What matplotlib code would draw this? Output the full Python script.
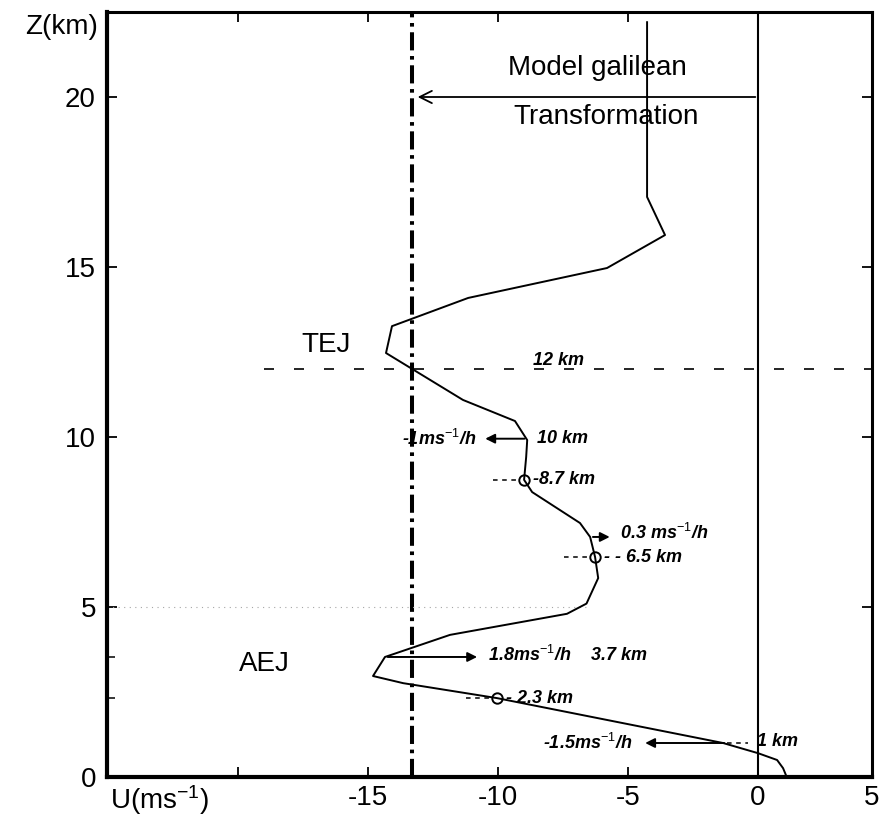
import matplotlib
matplotlib.use("Agg")
import matplotlib.pyplot as plt

# vertical profile of U (m/s) against height (km)
u_prof = [-4.27, -4.27, -3.58, -5.81, -11.15, -14.08, -14.31, -11.35, -9.35, -8.88,
          -8.92, -9.0, -8.69, -6.85, -6.46, -6.27, -6.15, -6.6, -7.35, -11.85,
          -14.35, -14.81, -13.65, -10.04, -1.35, 0.0, 0.73, 0.96, 1.1]
z_prof = [22.2, 17.06, 15.94, 14.97, 14.09, 13.26, 12.47, 11.09, 10.47, 9.91,
          9.41, 8.74, 8.38, 7.47, 7.06, 6.47, 5.85, 5.1, 4.8, 4.18,
          3.53, 2.97, 2.76, 2.32, 1.0, 0.7, 0.5, 0.26, 0.0]

u_galilean = -13.3      # model galilean transformation speed
z_tej_level = 12.0
z_aej_ref = 5.0

# marked levels (circles)
circ_u = [-9.0, -6.27, -10.04]
circ_z = [8.74, 6.47, 2.32]
circ_labels = ["-8.7 km", "- - 6.5 km", "- 2.3 km"]

xticks = [-20, -15, -10, -5, 0]
xticklabels = ["", "-15", "-10", "-5", "0"]
yticks = [0, 5, 10, 15, 20]

plt.rcParams["font.family"] = ["Liberation Sans", "DejaVu Sans"]
plt.rcParams["mathtext.fontset"] = "custom"
plt.rcParams["mathtext.rm"] = "Liberation Sans"
plt.rcParams["mathtext.it"] = "Liberation Sans:italic"

fig = plt.figure(figsize=(8.81, 8.25), dpi=100)
ax = fig.add_axes([107 / 881, 1 - 777 / 825, 765 / 881, 765 / 825])
ax.set_xlim(-25.04, 4.38)
ax.set_ylim(0, 22.5)

# reference lines
ax.axvline(0, color="black", lw=1.5)
ax.axvline(u_galilean, color="black", lw=2.9, dashes=(4.5, 1.4, 0.9, 1.4))
ax.plot([-19, 4.38], [z_tej_level, z_tej_level], color="black", lw=1.2, dashes=(6, 12))
ax.plot([-25.04, -6.6], [z_aej_ref, z_aej_ref], color="0.65", lw=0.8, ls=(0, (1, 4)))

# profile
ax.plot(u_prof, z_prof, color="black", lw=1.4)
ax.plot(circ_u, circ_z, "o", ms=7.5, mfc="none", mec="black", mew=1.4)

hand = dict(fontsize=13, fontstyle="italic", fontweight="bold", va="center")
ax.text(-8.65, 12.25, "12 km", **hand)
ax.text(-8.5, 9.95, "10 km", **hand)
ax.text(-10.85, 9.95, "-1ms$^{-1}$/h", ha="right", **hand)
for cu, cz, lab in zip(circ_u, circ_z, circ_labels):
    ax.plot([cu - 1.2, cu - 0.3], [cz, cz], color="black", lw=1.1, dashes=(3, 3))
    ax.text(cu + 0.35, cz, lab, **hand)
ax.text(-5.3, 7.18, "0.3 ms$^{-1}$/h", **hand)
ax.text(-10.4, 3.6, "1.8ms$^{-1}$/h    3.7 km", **hand)
ax.text(-4.85, 1.0, "-1.5ms$^{-1}$/h", ha="right", **hand)
ax.text(-0.05, 1.05, "1 km", **hand)
ax.plot([-1.2, -0.4], [1.0, 1.0], color="black", lw=1.1, dashes=(3, 3))

arrow = dict(arrowstyle="-|>", color="black", lw=1.4, mutation_scale=14)
ax.annotate("", xy=(-10.6, 9.95), xytext=(-8.88, 9.95), arrowprops=arrow)
ax.annotate("", xy=(-5.6, 7.06), xytext=(-6.46, 7.06), arrowprops=arrow)
ax.annotate("", xy=(-10.7, 3.53), xytext=(-14.35, 3.53), arrowprops=arrow)
ax.annotate("", xy=(-4.45, 1.0), xytext=(-1.2, 1.0), arrowprops=arrow)

# galilean transformation arrow
ax.annotate("", xy=(u_galilean + 0.1, 20.0), xytext=(0, 20.0),
            arrowprops=dict(arrowstyle="->", color="black", lw=1.3,
                            mutation_scale=22))
ax.text(-6.2, 20.85, "Model galilean", fontsize=20, ha="center", va="center")
ax.text(-5.85, 19.4, "Transformation", fontsize=20, ha="center", va="center")

ax.text(-16.6, 12.7, "TEJ", fontsize=20, ha="center", va="center")
ax.text(-19.0, 3.32, "AEJ", fontsize=20, ha="center", va="center")

# axes styling
for side, w in [("left", 3.0), ("bottom", 3.0), ("top", 2.2), ("right", 2.2)]:
    ax.spines[side].set_linewidth(w)
ax.set_xticks(xticks + [4.38])
ax.set_xticklabels(xticklabels + ["5"])
ax.set_yticks(yticks)
ax.set_yticks([2.32, 3.53], minor=True)
ax.tick_params(which="major", direction="in", length=7, width=1.3, labelsize=20,
               top=True, right=True, pad=6)
ax.tick_params(which="minor", direction="in", length=6, width=1.1, left=True)
ax.tick_params(axis="y", pad=8)

ax.text(-0.012, 22.05, "Z(km)", transform=ax.get_yaxis_transform(), fontsize=20,
        ha="right", va="center")
ax.text(0.004, -0.03, "U(ms$^{-1}$)", transform=ax.transAxes, fontsize=20,
        ha="left", va="center")

fig.savefig("out.png", dpi=100)
